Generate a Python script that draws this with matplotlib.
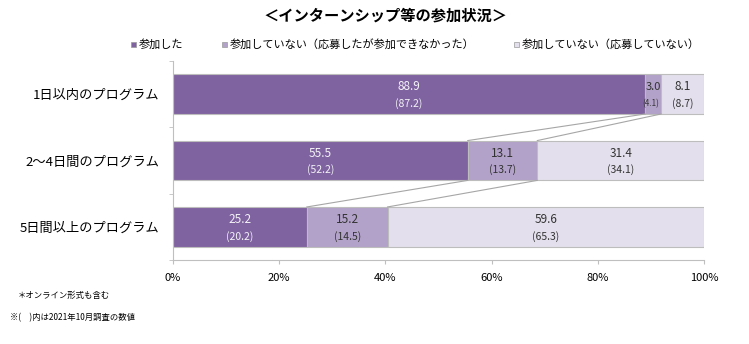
import matplotlib
matplotlib.use("Agg")
import matplotlib.pyplot as plt
from matplotlib.patches import Rectangle

plt.rcParams['font.family'] = ['Noto Sans CJK JP', 'DejaVu Sans']

# data
categories = ['1日以内のプログラム', '2～4日間のプログラム', '5日間以上のプログラム']
series_names = ['参加した', '参加していない（応募したが参加できなかった）', '参加していない（応募していない）']
values_now = [[88.9, 3.0, 8.1],
              [55.5, 13.1, 31.4],
              [25.2, 15.2, 59.6]]
values_prev = [[87.2, 4.1, 8.7],
               [52.2, 13.7, 34.1],
               [20.2, 14.5, 65.3]]
colors = ['#7F63A0', '#B2A1C8', '#E4DFEC']
text_colors = ['#F4F2F7', '#333333', '#333333']

fig = plt.figure(figsize=(7.49, 3.44), dpi=100)
ax = fig.add_axes([0.231, 0.244, 0.709, 0.579])

bar_h = 0.6
for i, cat in enumerate(categories):
    left = 0
    for j in range(3):
        w = values_now[i][j]
        ax.barh(i, w, left=left, height=bar_h, color=colors[j],
                edgecolor='#BDBDBD', linewidth=0.8)
        cx = left + w / 2
        small = w < 5
        ax.text(cx, i - 0.11, f'{w:.1f}', ha='center', va='center',
                fontsize=8 if small else 8.5, color=text_colors[j])
        ax.text(cx - (0.4 if small else 0), i + 0.14, f'({values_prev[i][j]:.1f})',
                ha='center', va='center',
                fontsize=5.8 if small else 7.5, color=text_colors[j])
        left += w

# connector lines between rows
for i in range(len(categories) - 1):
    c1 = 0
    c2 = 0
    for j in range(2):
        c1 += values_now[i][j]
        c2 += values_now[i + 1][j]
        ax.plot([c1, c2], [i + bar_h / 2, i + 1 - bar_h / 2], color='#A6A6A6', lw=0.8)

ax.set_xlim(0, 100)
ax.set_ylim(2.5, -0.5)
ax.set_yticks(range(3))
ax.set_yticklabels(categories, fontsize=9.5)
ax.tick_params(axis='y', length=0, pad=10)
ax.set_yticks([-0.5, 0.5, 1.5, 2.5], minor=True)
ax.tick_params(axis='y', which='minor', length=3, color='#BFBFBF')
ax.set_xticks([0, 20, 40, 60, 80, 100])
ax.set_xticklabels(['0%', '20%', '40%', '60%', '80%', '100%'], fontsize=8)
ax.tick_params(axis='x', length=3, color='#BFBFBF', pad=6)
for s in ['top', 'right']:
    ax.spines[s].set_visible(False)
for s in ['left', 'bottom']:
    ax.spines[s].set_color('#BFBFBF')
    ax.spines[s].set_linewidth(0.8)

# title
fig.text(0.515, 0.955, '＜インターンシップ等の参加状況＞', ha='center', va='center',
         fontsize=11, fontweight='bold')

# legend
leg_x = [131, 222, 514]
for x, name, c in zip(leg_x, series_names, colors):
    fig.patches.append(Rectangle((x / 749, 1 - 47 / 344), 5 / 749, 5 / 344,
                                 transform=fig.transFigure, facecolor=c,
                                 edgecolor='#999999', linewidth=0.5))
    fig.text((x + 8) / 749, 1 - 44.5 / 344, name, ha='left', va='center', fontsize=8)

# footnotes
fig.text(18 / 749, 1 - 295 / 344, '＊オンライン形式も含む', ha='left', va='center', fontsize=6)
fig.text(10 / 749, 1 - 318 / 344, '※(　)内は2021年10月調査の数値', ha='left', va='center', fontsize=6)

fig.savefig('out.png', dpi=100)
